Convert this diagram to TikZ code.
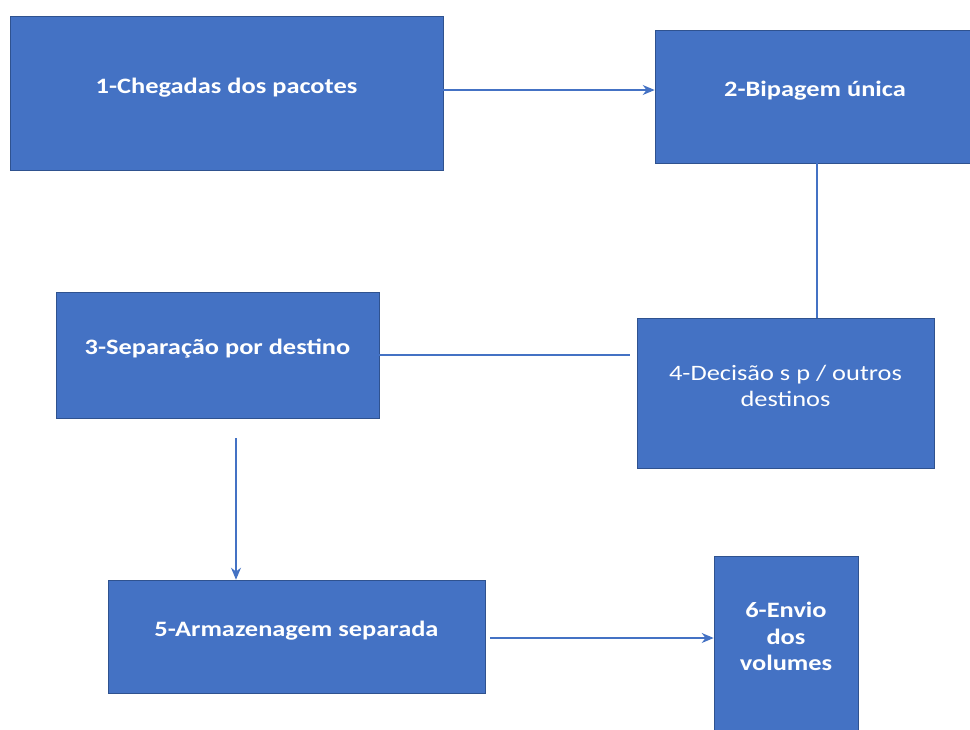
\documentclass[tikz,border=0pt]{standalone}
\usepackage{fontspec}
\setmainfont{Carlito}
\newfontfamily\boxfont[FakeStretch=1.2]{Carlito}
\usetikzlibrary{arrows.meta}
\definecolor{boxcol}{HTML}{4472C4}
\definecolor{edgecol}{HTML}{2F528F}
\definecolor{linkcol}{HTML}{4472C4}
\tikzset{
  box/.style={fill=boxcol, draw=edgecol, line width=0.6pt, inner sep=0pt},
  boxtext/.style={text=white, align=center, inner sep=0pt,
    font=\boxfont\fontsize{22}{26.5}\selectfont},
  boldtext/.style={boxtext, font=\boxfont\fontsize{22}{26.5}\selectfont\bfseries},
  link/.style={draw=linkcol, line width=1.3pt},
  flow/.style={link, -{Stealth[length=12pt, width=10pt]}},
}

\begin{document}
\begin{tikzpicture}[x=1pt, y=-1pt]

  \useasboundingbox (0,0) rectangle (970,729);

  % Boxes.
  \node[box, minimum width=433, minimum height=154] (chegada) at (226.5,93) {};
  \node[box, minimum width=320, minimum height=133] (bipagem) at (815,96.5) {};
  \node[box, minimum width=323, minimum height=126] (separacao) at (217.5,355) {};
  \node[box, minimum width=297, minimum height=150] (decisao) at (785.5,393) {};
  \node[box, minimum width=377, minimum height=113] (armazenagem) at (296.5,636.5) {};
  \node[box, minimum width=144, minimum height=179] (envio) at (786,645.5) {};

  % Texts.
  \node[boldtext] (chegada-txt) at ([yshift=5pt]chegada.center) {1-Chegadas dos pacotes};
  \node[boldtext] (bipagem-txt) at ([yshift=5.5pt]bipagem.center) {2-Bipagem única};
  \node[boldtext] (separacao-txt) at ([yshift=6pt]separacao.center) {3-Separação por destino};
  \node[boxtext] (decisao-txt) at ([yshift=7pt]decisao.center) {4-Decisão s p / outros\\destinos};
  \node[boldtext] (armazenagem-txt) at ([yshift=5.5pt]armazenagem.center) {5-Armazenagem separada};
  \node[boldtext] (envio-txt) at ([yshift=9pt]envio.center) {6-Envio\\dos\\volumes};

  % Connectors.
  \draw[flow] ([yshift=3pt]chegada.east) -- ([yshift=3pt]chegada.east -| bipagem.west);
  \draw[link] ([xshift=2pt]bipagem.south) -- ([xshift=2pt]bipagem.south |- decisao.north);
  \draw[link] (separacao.east) -- ([xshift=-7pt]decisao.west |- separacao.east);
  \draw[flow] ([xshift=18.5pt,yshift=-20pt]separacao.south)
    -- ([xshift=18.5pt]separacao.south |- armazenagem.north);
  \draw[flow] ([xshift=5pt,yshift=-1.5pt]armazenagem.east)
    -- ([yshift=-1.5pt]armazenagem.east -| envio.west);

\end{tikzpicture}
\end{document}
